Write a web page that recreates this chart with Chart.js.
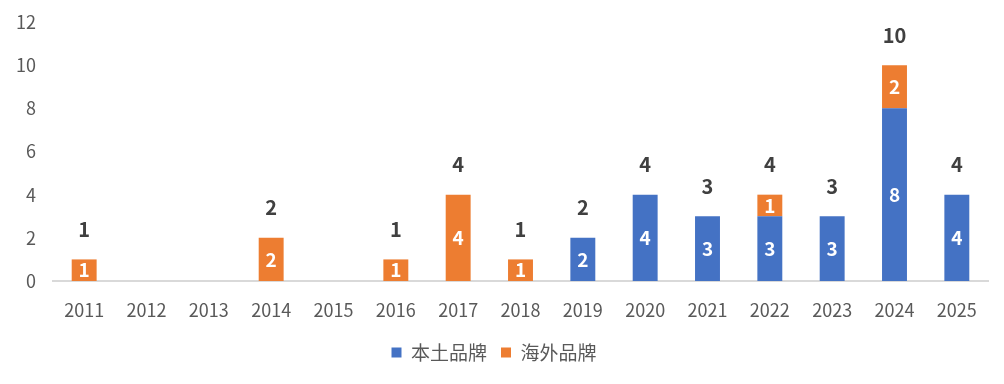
<!DOCTYPE html>
<html lang="zh">
<head>
  <meta charset="UTF-8">
  <title>品牌数量</title>
  <script src="https://cdn.jsdelivr.net/npm/chart.js"></script>
  <style>
    body { margin: 0; padding: 0; background: #fff; }
    #wrap { width: 1004px; height: 384px; }
  </style>
</head>
<body>
  <div id="wrap"><canvas id="chart" width="1004" height="384"></canvas></div>
  <script>
    const years = ['2011', '2012', '2013', '2014', '2015', '2016', '2017', '2018',
                   '2019', '2020', '2021', '2022', '2023', '2024', '2025'];
    const localBrands = [0, 0, 0, 0, 0, 0, 0, 0, 2, 4, 3, 3, 3, 8, 4];
    const foreignBrands = [1, 0, 0, 2, 0, 1, 4, 1, 0, 0, 0, 1, 0, 2, 0];
    const yTicks = [0, 2, 4, 6, 8, 10, 12];

    const fontFamily = '"Microsoft YaHei", "Noto Sans CJK SC", sans-serif';

    // draws the white numbers inside the bars and the bold totals above them
    const labelPlugin = {
      id: 'barLabels',
      afterDatasetsDraw(chart) {
        const ctx = chart.ctx;
        ctx.save();
        ctx.textAlign = 'center';
        ctx.textBaseline = 'middle';
        ctx.font = 'bold 19px ' + fontFamily;
        ctx.fillStyle = '#ffffff';
        chart.data.datasets.forEach((ds, di) => {
          const meta = chart.getDatasetMeta(di);
          meta.data.forEach((bar, i) => {
            if (!ds.data[i]) return;
            ctx.fillText(ds.data[i], bar.x, (bar.y + bar.base) / 2);
          });
        });

        ctx.font = 'bold 20px ' + fontFamily;
        ctx.fillStyle = '#404040';
        years.forEach((y, i) => {
          const total = localBrands[i] + foreignBrands[i];
          if (!total) return;
          const x = chart.scales.x.getPixelForValue(i);
          const top = chart.scales.y.getPixelForValue(total);
          ctx.fillText(total, x, top - 30);
        });
        ctx.restore();
      }
    };

    new Chart(document.getElementById('chart').getContext('2d'), {
      type: 'bar',
      data: {
        labels: years,
        datasets: [
          { label: '本土品牌', data: localBrands, backgroundColor: '#4472c4' },
          { label: '海外品牌', data: foreignBrands, backgroundColor: '#ed7d31' }
        ]
      },
      options: {
        responsive: false,
        animation: false,
        barPercentage: 1,
        categoryPercentage: 0.4,
        layout: { padding: { top: 22, right: 16, left: 0, bottom: 12 } },
        plugins: {
          tooltip: { enabled: false },
          legend: {
            position: 'bottom',
            labels: {
              boxWidth: 10,
              boxHeight: 10,
              padding: 14,
              color: '#595959',
              font: { family: fontFamily, size: 19 }
            }
          }
        },
        scales: {
          x: {
            stacked: true,
            afterFit(scale) { scale.height = 48; },
            grid: { display: false, drawTicks: false },
            border: { color: '#d9d9d9', width: 2 },
            ticks: {
              color: '#595959',
              padding: 18,
              font: { family: fontFamily, size: 18 }
            }
          },
          y: {
            stacked: true,
            min: 0,
            max: 12,
            afterFit(scale) {
              scale.width = 53;
              scale.paddingTop = 11;
              scale.paddingBottom = 11;
            },
            afterBuildTicks(scale) { scale.ticks = yTicks.map(v => ({ value: v })); },
            grid: { display: false, drawTicks: false },
            border: { display: false },
            ticks: {
              color: '#595959',
              padding: 17,
              font: { family: fontFamily, size: 18 }
            }
          }
        }
      },
      plugins: [labelPlugin]
    });
  </script>
</body>
</html>
